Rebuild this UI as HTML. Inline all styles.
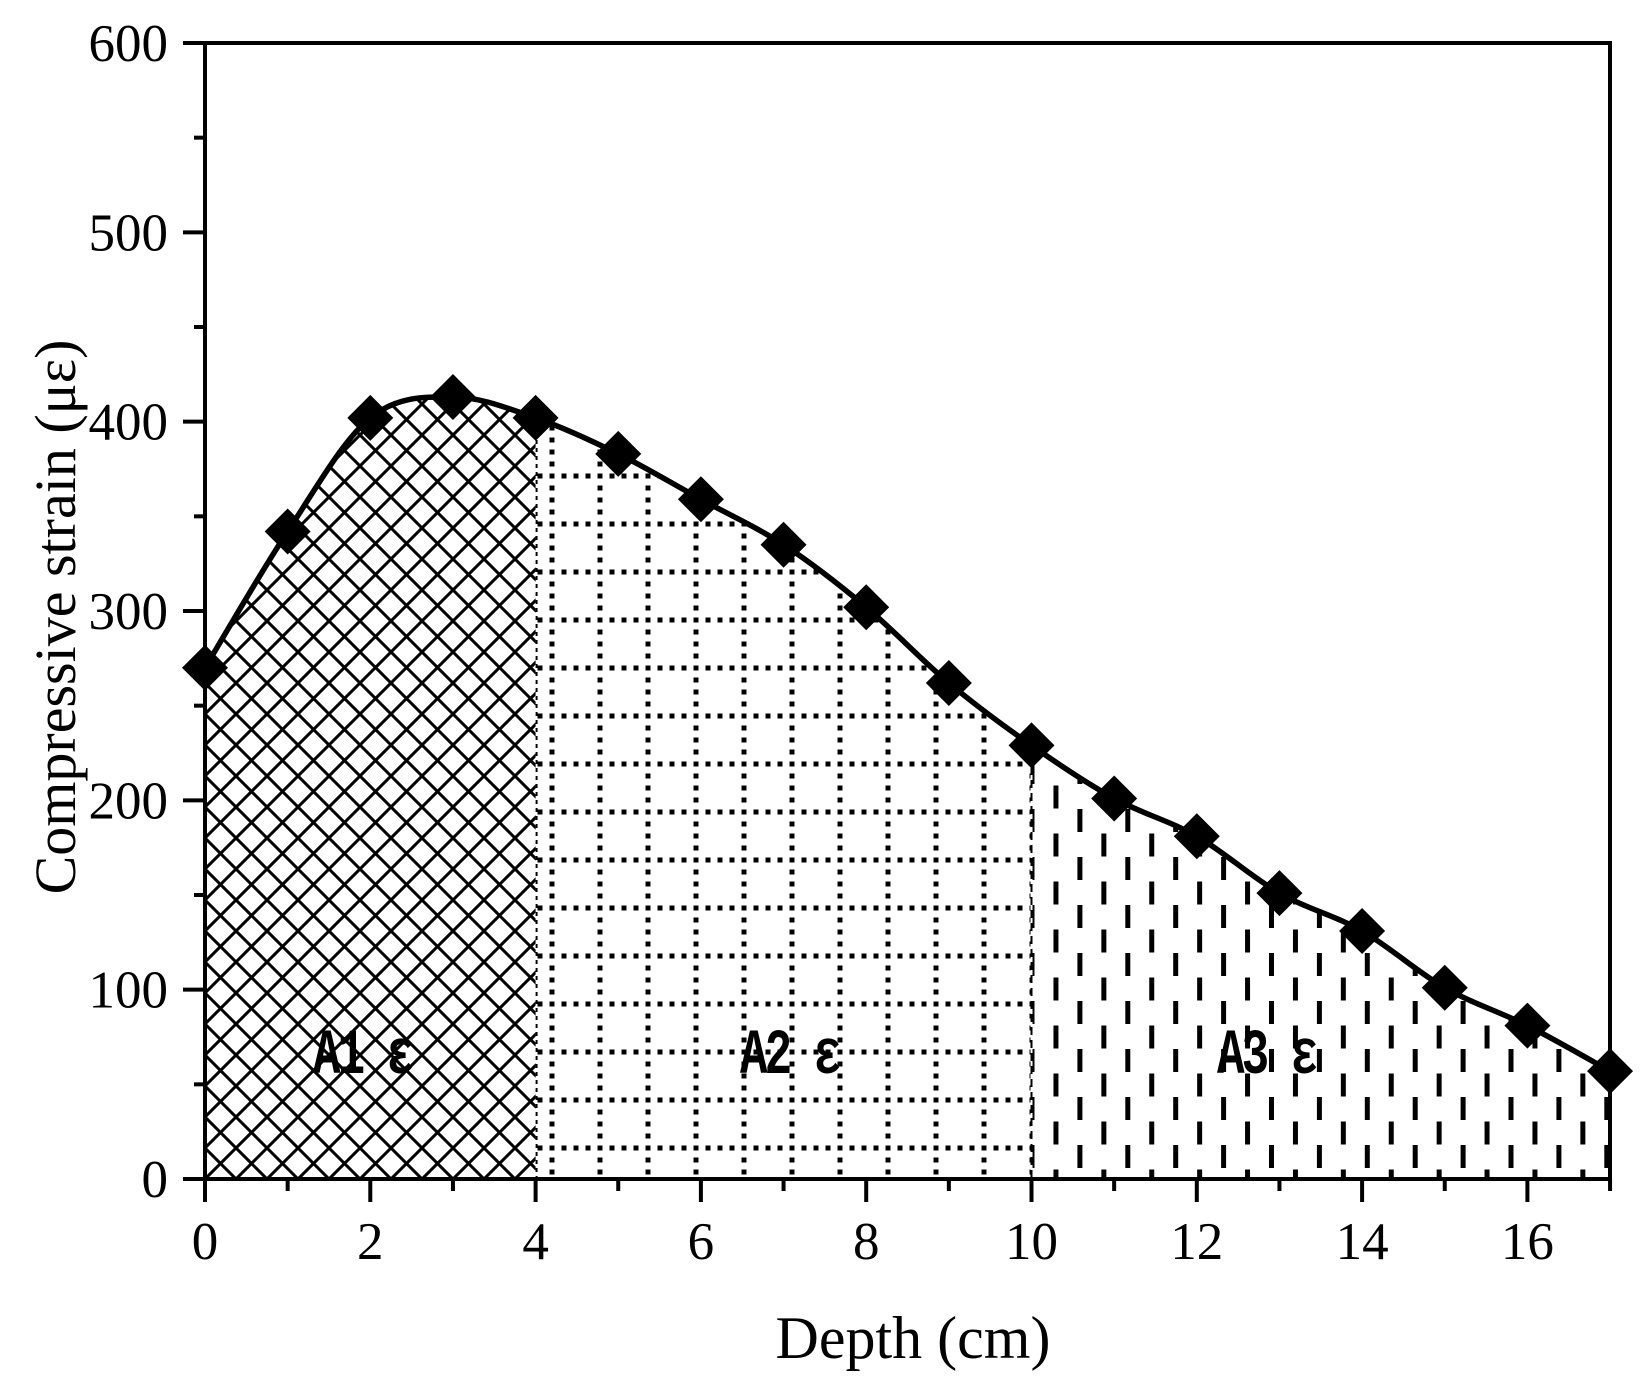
<!DOCTYPE html><html><head><meta charset="utf-8"><style>body{margin:0;background:#fff}svg{display:block}text{font-family:"Liberation Serif",serif;fill:#000}</style></head><body>
<svg id="s" width="1644" height="1387" xmlns="http://www.w3.org/2000/svg">
<defs>
<pattern id="p1" patternUnits="userSpaceOnUse" x="205" y="1179" width="31" height="31"><path d="M0,0L31,31M31,0L0,31M-3,28L3,34M28,-3L34,3" stroke="#000" stroke-width="3"/></pattern>
<pattern id="p2" patternUnits="userSpaceOnUse" x="549.5" y="473.5" width="48" height="48">
<rect x="0" y="0" width="5" height="5"/><rect x="12" y="0" width="5" height="5"/><rect x="24" y="0" width="5" height="5"/><rect x="36" y="0" width="5" height="5"/>
<rect x="0" y="12" width="5" height="5"/><rect x="0" y="24" width="5" height="5"/><rect x="0" y="36" width="5" height="5"/></pattern>
<pattern id="p3" patternUnits="userSpaceOnUse" x="1029.5" y="857" width="47.9" height="48"><rect x="0" y="0" width="5" height="23"/><rect x="23.95" y="24.5" width="5" height="23"/></pattern>
</defs>
<g id="g"></g>
</svg>
<script>
const X=v=>205+v*82.65,Y=v=>1179-v*1136/600;
const d=[270,342,402,413,402,383,359,335,302,262,229,201,181,151,131,101,81,57];
const P=d.map((v,i)=>[X(i),Y(v)]);
let path=`M${P[0][0]},${P[0][1]}`;
for(let i=0;i<P.length-1;i++){const p0=P[Math.max(i-1,0)],p1=P[i],p2=P[i+1],p3=P[Math.min(i+2,P.length-1)];
path+=`C${p1[0]+(p2[0]-p0[0])/6},${p1[1]+(p2[1]-p0[1])/6} ${p2[0]-(p3[0]-p1[0])/6},${p2[1]-(p3[1]-p1[1])/6} ${p2[0]},${p2[1]}`;}
const area=path+`L${X(17)},1179L205,1179Z`;
let h=`<clipPath id="c"><path d="${area}"/></clipPath><g clip-path="url(#c)">
<rect x="205" y="0" width="${X(4)-205}" height="1179" fill="url(#p1)"/>
<rect x="${X(4)+1}" y="0" width="${X(10)-X(4)-2}" height="1179" fill="url(#p2)"/>
<rect x="${X(10)+1}" y="0" width="${X(17)-X(10)}" height="1179" fill="url(#p3)"/>
<line x1="${X(4)+1}" y1="0" x2="${X(4)+1}" y2="1179" stroke="#000" stroke-width="2" stroke-dasharray="4,4"/>
<line x1="${X(10)}" y1="0" x2="${X(10)}" y2="1179" stroke="#000" stroke-width="2" stroke-dasharray="8,5"/></g>`;
h+=`<path d="${path}" fill="none" stroke="#000" stroke-width="5.5"/>`;
P.forEach(p=>h+=`<path d="M${p[0]},${p[1]-23}l23,23l-23,23l-23,-23z" fill="#000"/>`);
h+=`<path d="M205,43H1610V1179H205Z" fill="none" stroke="#000" stroke-width="4"/>`;
for(let i=0;i<=12;i++){const y=Y(i*50),mj=i%2==0;h+=`<line x1="${mj?183:194}" y1="${y}" x2="205" y2="${y}" stroke="#000" stroke-width="4"/>`;
if(mj)h+=`<text x="168" y="${y+18}" font-size="53" text-anchor="end">${i*50}</text>`;}
for(let i=0;i<=17;i++){const x=X(i),mj=i%2==0;h+=`<line x1="${x}" y1="1179" x2="${x}" y2="${mj?1202:1191}" stroke="#000" stroke-width="4"/>`;
if(mj)h+=`<text x="${x}" y="1259" font-size="53" text-anchor="middle">${i}</text>`;}
h+=`<text x="913" y="1358" font-size="60" text-anchor="middle">Depth (cm)</text>`;
h+=`<text transform="translate(75,617) rotate(-90)" font-size="58" text-anchor="middle">Compressive strain (με)</text>`;
[["A1 ε",313],["A2 ε",740],["A3 ε",1217]].forEach(t=>h+=`<text transform="translate(${t[1]},1073) scale(1,1.4)" x="0" y="0" font-size="46" font-weight="bold" letter-spacing="-3" style="font-family:'Liberation Mono',monospace">${t[0]}</text>`);
document.getElementById('g').innerHTML=h;
</script></body></html>
